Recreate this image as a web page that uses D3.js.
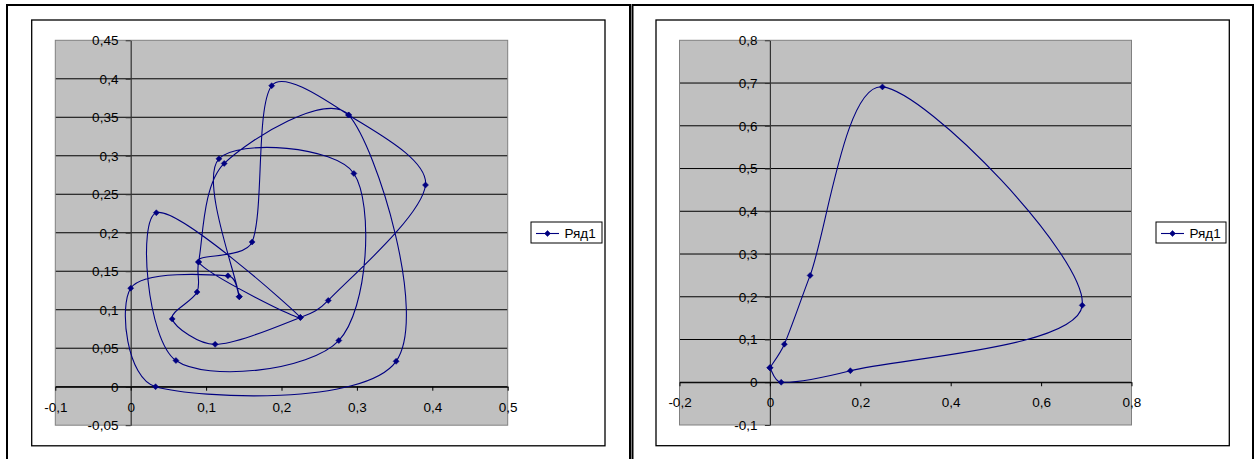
<!DOCTYPE html>
<html><head><meta charset="utf-8">
<script src="https://cdn.jsdelivr.net/npm/d3@7"></script>
<style>
html,body{margin:0;padding:0;background:#fff;}
svg{display:block;font-family:"Liberation Sans",Arial,sans-serif;}
</style></head><body>
<svg id="chart" width="1256" height="459"></svg>
<script>
const seriesName = "Ряд1";

// Left chart: one smoothed XY series (points in drawing order)
const leftX = [0.144, 0.129, 0.000, 0.033, 0.352, 0.289, 0.124, 0.090, 0.088, 0.055, 0.112, 0.225, 0.262,
               0.391, 0.289, 0.187, 0.161, 0.090, 0.225, 0.034, 0.060, 0.276, 0.296, 0.117, 0.144];
const leftY = [0.117, 0.144, 0.128, 0.000, 0.033, 0.353, 0.290, 0.162, 0.123, 0.088, 0.055, 0.090, 0.112,
               0.262, 0.353, 0.391, 0.188, 0.162, 0.090, 0.226, 0.034, 0.060, 0.277, 0.296, 0.117];
const leftXTicks = [-0.1, 0, 0.1, 0.2, 0.3, 0.4, 0.5];
const leftYTicks = [-0.05, 0, 0.05, 0.1, 0.15, 0.2, 0.25, 0.3, 0.35, 0.4, 0.45];

// Right chart
const rightX = [0.000, 0.025, 0.178, 0.691, 0.249, 0.089, 0.032, 0.000];
const rightY = [0.034, 0.000, 0.027, 0.180, 0.691, 0.250, 0.089, 0.034];
const rightXTicks = [-0.2, 0, 0.2, 0.4, 0.6, 0.8];
const rightYTicks = [-0.1, 0, 0.1, 0.2, 0.3, 0.4, 0.5, 0.6, 0.7, 0.8];

const fmt = v => String(v).replace(".", ",");

// Excel-like smoothed line (Bezier with 1/6 tangents, arms shortened on short segments)
function excelSmooth(context) {
  let pts = [];
  const dist = (a, b) => Math.hypot(b[0] - a[0], b[1] - a[1]);
  return {
    areaStart() {}, areaEnd() {},
    lineStart() { pts = []; },
    point(x, y) { pts.push([+x, +y]); },
    lineEnd() {
      const n = pts.length; if (!n) return;
      context.moveTo(pts[0][0], pts[0][1]);
      for (let i = 0; i < n - 1; i++) {
        const p0 = pts[i > 0 ? i - 1 : i], p1 = pts[i], p2 = pts[i + 1], p3 = pts[i + 2 < n ? i + 2 : i + 1];
        const d01 = dist(p0, p1), d12 = dist(p1, p2), d23 = dist(p2, p3);
        const s1 = d01 > 0 ? Math.min(1, Math.sqrt(d12 / d01)) : 1;
        const s2 = d23 > 0 ? Math.min(1, Math.sqrt(d12 / d23)) : 1;
        context.bezierCurveTo(
          p1[0] + s1 * (p2[0] - p0[0]) / 6, p1[1] + s1 * (p2[1] - p0[1]) / 6,
          p2[0] - s2 * (p3[0] - p1[0]) / 6, p2[1] - s2 * (p3[1] - p1[1]) / 6,
          p2[0], p2[1]);
      }
    }
  };
}

const panels = [
  { xs: leftX, ys: leftY, xTicks: leftXTicks, yTicks: leftYTicks,
    outer: [7, 5, 630, 490], inner: [31.7, 20, 605, 445.8],
    plot: [55.3, 40.3, 507.7, 425.2], legend: [531, 222, 602, 243] },
  { xs: rightX, ys: rightY, xTicks: rightXTicks, yTicks: rightYTicks,
    outer: [632.5, 5, 1253, 490], inner: [656, 20, 1229.3, 445.7],
    plot: [679.5, 40.3, 1131.5, 425], legend: [1156, 222, 1226, 243] }
];

const navy = "#000080";
const svg = d3.select("#chart");
const diamond = "M0,-3L3,0L0,3L-3,0Z";
const fontSize = 13.5;

panels.forEach((p, idx) => {
  const g = svg.append("g");
  const [ox0, oy0, ox1, oy1] = p.outer;
  g.append("rect").attr("x", ox0).attr("y", oy0).attr("width", ox1 - ox0).attr("height", oy1 - oy0)
    .attr("fill", "#fff").attr("stroke", "#000").attr("stroke-width", 2);
  const [ix0, iy0, ix1, iy1] = p.inner;
  g.append("rect").attr("x", ix0).attr("y", iy0).attr("width", ix1 - ix0).attr("height", iy1 - iy0)
    .attr("fill", "#fff").attr("stroke", "#000").attr("stroke-width", 1.3);

  const [px0, py0, px1, py1] = p.plot;
  const x = d3.scaleLinear().domain(d3.extent(p.xTicks)).range([px0, px1]);
  const y = d3.scaleLinear().domain(d3.extent(p.yTicks)).range([py1, py0]);

  g.append("rect").attr("x", px0).attr("y", py0).attr("width", px1 - px0).attr("height", py1 - py0)
    .attr("fill", "#c0c0c0");

  const yMin = d3.min(p.yTicks), yMax = d3.max(p.yTicks);
  g.append("g").selectAll("line").data(p.yTicks.filter(v => v !== yMin && v !== yMax)).join("line")
    .attr("x1", px0).attr("x2", px1).attr("y1", d => y(d)).attr("y2", d => y(d))
    .attr("stroke", "#000").attr("stroke-width", 1);

  g.append("rect").attr("x", px0).attr("y", py0).attr("width", px1 - px0).attr("height", py1 - py0)
    .attr("fill", "none").attr("stroke", "#808080").attr("stroke-width", 1);

  // Y axis at x = 0
  const yAxis = d3.axisLeft(y).tickValues(p.yTicks).tickFormat(fmt).tickSize(5).tickSizeOuter(0).tickPadding(7.3);
  const ya = g.append("g").attr("transform", `translate(${x(0)},0)`).call(yAxis);
  ya.select(".domain").attr("stroke", "#333").attr("stroke-width", 1.2);
  ya.selectAll(".tick line").attr("stroke", "#333");
  ya.selectAll("text").attr("font-size", fontSize).attr("fill", "#000")
    .attr("font-family", '"Liberation Sans", Arial, sans-serif');

  // X axis at y = 0
  const xAxis = d3.axisBottom(x).tickValues(p.xTicks).tickFormat(fmt).tickSize(4).tickSizeOuter(0).tickPadding(11.5);
  const xa = g.append("g").attr("transform", `translate(0,${y(0)})`).call(xAxis);
  xa.select(".domain").attr("stroke", "#000").attr("stroke-width", 1.2);
  xa.selectAll(".tick line").attr("stroke", "#000");
  xa.selectAll("text").attr("font-size", fontSize).attr("fill", "#000")
    .attr("font-family", '"Liberation Sans", Arial, sans-serif');

  const pts = p.xs.map((v, i) => [v, p.ys[i]]);
  const clipId = "clip" + idx;
  g.append("clipPath").attr("id", clipId).append("rect")
    .attr("x", px0).attr("y", py0).attr("width", px1 - px0).attr("height", py1 - py0);

  const line = d3.line().x(d => x(d[0])).y(d => y(d[1])).curve(excelSmooth);
  g.append("path").attr("d", line(pts)).attr("fill", "none").attr("stroke", navy)
    .attr("stroke-width", 1.1).attr("clip-path", `url(#${clipId})`);

  g.append("g").selectAll("path").data(pts).join("path")
    .attr("d", diamond).attr("transform", d => `translate(${x(d[0])},${y(d[1])})`)
    .attr("fill", navy).attr("stroke", navy).attr("stroke-width", 0.5);

  // Legend
  const [lx0, ly0, lx1, ly1] = p.legend;
  const lg = g.append("g");
  lg.append("rect").attr("x", lx0).attr("y", ly0).attr("width", lx1 - lx0).attr("height", ly1 - ly0)
    .attr("fill", "#fff").attr("stroke", "#000").attr("stroke-width", 1);
  const cy = (ly0 + ly1) / 2 + 1;
  lg.append("line").attr("x1", lx0 + 5).attr("x2", lx0 + 28).attr("y1", cy).attr("y2", cy)
    .attr("stroke", navy).attr("stroke-width", 1.1);
  lg.append("path").attr("d", diamond).attr("transform", `translate(${lx0 + 16.5},${cy})`)
    .attr("fill", navy).attr("stroke", navy).attr("stroke-width", 0.5);
  lg.append("text").attr("x", lx0 + 33.5).attr("y", cy + 4.8).attr("font-size", fontSize).attr("fill", "#000")
    .text(seriesName);
});
</script>
</body></html>
